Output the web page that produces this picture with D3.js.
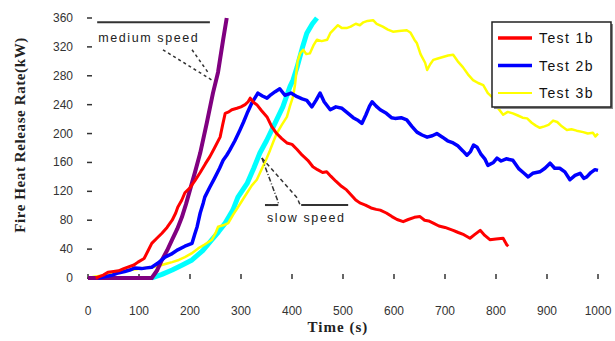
<!DOCTYPE html>
<html>
<head>
<meta charset="utf-8">
<script src="https://cdn.jsdelivr.net/npm/d3@7"></script>
<style>
  html, body { margin: 0; padding: 0; background: #fff; }
  svg { display: block; }
  .tick-label { font-family: Arial, "Liberation Sans", sans-serif; font-size: 12px; fill: #333; }
  .axis-title { font-family: "Liberation Serif", "Times New Roman", serif; font-size: 15px; font-weight: bold; fill: #222; }
  .note { font-family: Arial, "Liberation Sans", sans-serif; font-size: 12.5px; fill: #222; letter-spacing: 1.6px; }
  .legend-text { font-family: Arial, "Liberation Sans", sans-serif; font-size: 14px; fill: #111; letter-spacing: 1.4px; }
</style>
</head>
<body>
<svg id="chart" width="615" height="341"></svg>
<script>
// Axis ticks
const xTicks = [0, 100, 200, 300, 400, 500, 600, 700, 800, 900, 1000];
const yTicks = [0, 40, 80, 120, 160, 200, 240, 280, 320, 360];

// Legend entries (measured tests)
const legendNames = ["Test  1b", "Test  2b", "Test  3b"];

// Measured heat release rate, [time (s), HRR (kW)]
const test1b = [
  [15,0],[30,4],[39,8],[50,9],[60,10],[70,13],[78,15],[90,18],[98,22],[110,27],[118,38],[125,48],
  [135,55],[145,62],[155,70],[165,80],[172,90],[176,98],[184,108],[190,118],[200,125],[210,135],
  [220,146],[230,158],[239,168],[248,180],[259,195],[264,212],[269,228],[276,230],[282,233],
  [292,235],[300,237],[308,240],[314,244],[318,249],[325,243],[331,240],[340,232],[351,223],
  [360,210],[370,200],[380,193],[390,187],[400,185],[410,178],[420,170],[431,163],[441,154],
  [450,150],[460,146],[468,147],[476,141],[486,134],[497,127],[507,122],[516,115],[525,108],
  [533,104],[544,101],[555,97],[565,95],[573,94],[585,90],[596,85],[606,81],[618,78],[628,81],
  [640,84],[651,85],[660,80],[668,79],[677,76],[688,72],[700,70],[716,66],[726,63],[737,60],
  [749,55],[758,60],[769,66],[778,59],[788,53],[800,54],[814,55],[818,50],[821,46],[824,44]
];

const test2b = [
  [20,0],[35,2],[48,4],[59,7],[72,9],[82,11],[92,14],[105,13],[115,14],[125,15],[138,21],
  [151,29],[163,33],[176,39],[190,44],[204,48],[209,60],[214,71],[220,90],[226,104],[229,112],
  [239,126],[248,138],[258,152],[265,163],[272,170],[278,177],[288,190],[298,205],[305,216],
  [312,228],[321,242],[328,250],[333,256],[342,252],[351,249],[359,254],[367,258],[376,262],
  [386,253],[398,256],[410,251],[420,248],[429,246],[439,237],[447,246],[455,256],[463,244],
  [475,233],[486,237],[498,235],[510,228],[520,222],[530,218],[537,214],[545,226],[552,238],
  [557,244],[565,238],[573,233],[585,228],[595,222],[602,221],[614,222],[625,219],[635,210],
  [645,202],[655,198],[665,195],[675,197],[684,200],[695,195],[705,190],[716,187],[725,183],
  [735,176],[743,170],[750,175],[756,184],[763,181],[770,172],[778,165],[784,156],[795,160],
  [802,166],[810,162],[820,165],[833,163],[845,151],[855,145],[863,140],[872,145],[886,147],
  [896,152],[906,159],[915,152],[925,152],[935,147],[945,136],[955,142],[965,145],[972,138],
  [978,140],[986,146],[994,150],[1000,149]
];

const test3b = [
  [0,0],[15,2],[33,4],[50,6],[65,9],[78,11],[95,12],[110,14],[125,15],[140,17],[155,20],
  [165,22],[178,25],[190,29],[203,34],[216,41],[228,46],[243,53],[250,62],[255,71],[265,73],
  [275,76],[285,88],[294,98],[303,108],[312,118],[321,128],[331,136],[340,150],[350,165],
  [357,177],[363,188],[370,200],[380,212],[390,223],[396,238],[402,251],[406,268],[411,300],
  [416,311],[422,316],[428,310],[435,311],[442,322],[449,330],[458,328],[469,330],[475,339],
  [483,345],[490,350],[498,346],[507,346],[515,348],[525,352],[533,350],[540,354],[548,356],
  [559,357],[566,352],[578,348],[588,344],[598,341],[610,342],[625,343],[632,340],[640,330],
  [645,325],[652,310],[661,298],[665,288],[671,296],[677,302],[686,304],[696,306],[706,308],
  [716,309],[725,300],[735,292],[745,282],[755,274],[765,270],[775,267],[784,256],[793,250],
  [803,236],[814,226],[823,230],[833,228],[843,225],[852,222],[861,221],[870,215],[878,211],
  [886,208],[895,210],[903,212],[912,218],[920,216],[929,210],[939,205],[948,206],[958,204],
  [971,202],[980,200],[990,201],[995,196],[1000,200]
];

// Predicted growth curves for the two spread speeds
const mediumSpeed = [
  [0,0],[125,0],[135,10],[145,25],[155,38],[165,53],[175,68],[184,84],[192,102],[200,122],
  [210,147],[220,173],[233,215],[245,256],[255,285],[265,330],[272,360]
];
const slowSpeed = [
  [125,0],[145,5],[165,11],[185,18],[204,25],[225,38],[243,53],[256,64],[269,76],[284,94],
  [294,112],[312,131],[325,152],[337,173],[350,190],[363,209],[382,237],[396,265],[402,274],
  [410,292],[420,318],[429,339],[440,352],[449,360]
];

const svg = d3.select("#chart");
const x = d3.scaleLinear().domain([0, 1000]).range([88, 598]);
const y = d3.scaleLinear().domain([0, 360]).range([278, 18]);

// Y axis: short inward ticks and labels
const yAxis = svg.append("g");
yAxis.selectAll("line").data(yTicks).join("line")
  .attr("x1", x(0) - 1).attr("x2", x(0) + 4)
  .attr("y1", d => y(d)).attr("y2", d => y(d))
  .attr("stroke", "#333").attr("stroke-width", 1.5);
yAxis.selectAll("text").data(yTicks).join("text")
  .attr("class", "tick-label")
  .attr("x", 73).attr("y", d => y(d) + 4)
  .attr("text-anchor", "end")
  .text(d => d);

// X axis: short inward ticks and labels
const xAxis = svg.append("g");
xAxis.selectAll("line").data(xTicks).join("line")
  .attr("x1", d => x(d)).attr("x2", d => x(d))
  .attr("y1", y(0) - 4).attr("y2", y(0) + 1)
  .attr("stroke", "#333").attr("stroke-width", 1.5);
xAxis.selectAll("text").data(xTicks).join("text")
  .attr("class", "tick-label")
  .attr("x", d => x(d)).attr("y", 315)
  .attr("text-anchor", "middle")
  .text(d => d);

svg.append("text").attr("class", "axis-title")
  .attr("x", x(490)).attr("y", 332).attr("text-anchor", "middle")
  .attr("letter-spacing", "1px")
  .text("Time (s)");
svg.append("text").attr("class", "axis-title")
  .attr("transform", `translate(25,${y(198)}) rotate(-90)`)
  .attr("text-anchor", "middle")
  .attr("letter-spacing", "0.6px")
  .text("Fire Heat Release Rate(kW)");

// Curves
const line = d3.line().x(d => x(d[0])).y(d => y(d[1]));
const curves = [
  { data: slowSpeed,   color: "#00ffff", width: 5 },
  { data: test3b,      color: "#ffff00", width: 2.5 },
  { data: mediumSpeed, color: "#800080", width: 4 },
  { data: test2b,      color: "#0000ff", width: 3.5 },
  { data: test1b,      color: "#ff0000", width: 3 }
];
svg.append("g").selectAll("path").data(curves).join("path")
  .attr("d", d => line(d.data))
  .attr("fill", "none")
  .attr("stroke", d => d.color)
  .attr("stroke-width", d => d.width)
  .attr("stroke-linejoin", "round");

// Annotation: medium speed
const ann = svg.append("g").attr("stroke", "#333").attr("fill", "none");
ann.append("line")
  .attr("x1", x(18)).attr("x2", x(239)).attr("y1", y(354)).attr("y2", y(354))
  .attr("stroke-width", 2);
ann.append("line")
  .attr("x1", x(147)).attr("y1", y(316)).attr("x2", x(243)).attr("y2", y(274))
  .attr("stroke-width", 1.5).attr("stroke-dasharray", "3,3");
ann.append("line")
  .attr("x1", x(204)).attr("y1", y(316)).attr("x2", x(235)).attr("y2", y(285))
  .attr("stroke-width", 1.5).attr("stroke-dasharray", "3,3");
svg.append("text").attr("class", "note")
  .attr("x", x(20)).attr("y", y(327))
  .text("medium speed");

// Annotation: slow speed
ann.append("path")
  .attr("d", d3.line()([[x(341), y(166)], [x(373), y(105)], [x(373), y(101)], [x(347), y(101)]]))
  .attr("stroke-width", 1.5).attr("stroke-dasharray", "5,2,1,2");
ann.append("path")
  .attr("d", d3.line()([[x(341), y(166)], [x(410), y(111)], [x(416), y(101)], [x(510), y(101)]]))
  .attr("stroke-width", 1.5).attr("stroke-dasharray", "4,3");
ann.append("line")
  .attr("x1", x(347)).attr("x2", x(373)).attr("y1", y(101)).attr("y2", y(101))
  .attr("stroke-width", 2);
ann.append("line")
  .attr("x1", x(418)).attr("x2", x(510)).attr("y1", y(101)).attr("y2", y(101))
  .attr("stroke-width", 2);
svg.append("text").attr("class", "note")
  .attr("x", x(351)).attr("y", y(78))
  .text("slow speed");

// Legend
const legendColors = ["#ff0000", "#0000ff", "#ffff00"];
const legendWidths = [3.5, 3.5, 2];
const lg = svg.append("g");
lg.append("rect").attr("x", 494).attr("y", 24).attr("width", 119).attr("height", 85)
  .attr("fill", "#888");
lg.append("rect").attr("x", 492).attr("y", 22).attr("width", 119).attr("height", 85)
  .attr("fill", "#fff").attr("stroke", "#222").attr("stroke-width", 1.5);
const rows = lg.selectAll("g.row").data(legendNames).join("g")
  .attr("class", "row")
  .attr("transform", (d, i) => `translate(0,${38 + i * 27.5})`);
rows.append("line").attr("x1", 498).attr("x2", 532).attr("y1", 0).attr("y2", 0)
  .attr("stroke", (d, i) => legendColors[i])
  .attr("stroke-width", (d, i) => legendWidths[i]);
rows.append("text").attr("class", "legend-text")
  .attr("x", 539).attr("y", 5)
  .text(d => d);
</script>
</body>
</html>
